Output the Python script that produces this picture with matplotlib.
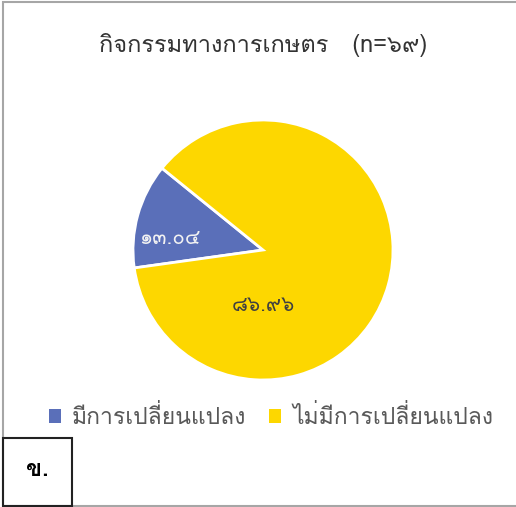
import matplotlib
matplotlib.use("Agg")
import matplotlib.pyplot as plt
from matplotlib.patches import Rectangle, Patch

plt.rcParams['font.family'] = ['Loma', 'DejaVu Sans']

TITLE = "กิจกรรมทางการเกษตร   (n=๖๙)"
CATEGORIES = ["มีการเปลี่ยนแปลง", "ไม่มีการเปลี่ยนแปลง"]
VALUES = [13.04, 86.96]
COLORS = ["#5A6FB9", "#FDD700"]
LABEL_COLORS = ["#F2F2F2", "#404040"]
PANEL = "ข."

THAI_DIGITS = str.maketrans("0123456789", "๐๑๒๓๔๕๖๗๘๙")


def thai_num(v):
    return f"{v:.2f}".translate(THAI_DIGITS)


W, H = 516, 507
fig = plt.figure(figsize=(W / 100, H / 100), dpi=100)

# outer chart frame (grey)
fig.add_artist(Rectangle((3 / W, 1 / H), 1.2, 1 - 2.5 / H, transform=fig.transFigure,
                         fill=False, edgecolor="#A6A6A6", linewidth=1.5))

fig.text(263 / W, 1 - 45 / H, TITLE, ha="center", va="center", fontsize=17, color="#333333")

ax = fig.add_axes([(263 - 130) / W, (H - 380) / H, 260 / W, 260 / H])
wedges, texts = ax.pie(VALUES, colors=COLORS, startangle=141, counterclock=True,
                       wedgeprops=dict(edgecolor="white", linewidth=2))
ax.set_aspect("equal")
ax.set_xlim(-1, 1)
ax.set_ylim(-1, 1)

label_pos = [(-0.72, 0.09), (0.0, -0.43)]
for v, pos, c in zip(VALUES, label_pos, LABEL_COLORS):
    ax.text(pos[0], pos[1], thai_num(v), ha="center", va="center", fontsize=15, color=c)

handles = [Patch(facecolor=c, edgecolor="none") for c in COLORS]
fig.legend(handles, CATEGORIES, loc="center", bbox_to_anchor=(271 / W, 1 - 417 / H), ncol=2,
           frameon=False, fontsize=16.5, handlelength=0.52, handleheight=0.52,
           handletextpad=0.48, columnspacing=1.0, labelcolor="#595959")

# panel letter box
fig.add_artist(Rectangle((3 / W, 1 / H), 69 / W, 68 / H, transform=fig.transFigure,
                         fill=False, edgecolor="#222222", linewidth=1.5))
fig.text(37 / W, 1 - 470 / H, PANEL, ha="center", va="center", fontsize=17,
         fontweight="bold", color="black")

fig.savefig("out.png", dpi=100)
